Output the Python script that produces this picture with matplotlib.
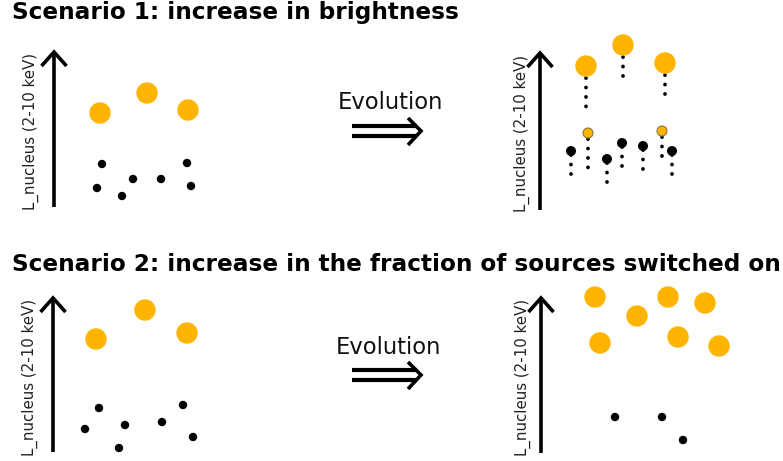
import matplotlib
matplotlib.use('Agg')
import matplotlib.pyplot as plt
from matplotlib.patches import Circle

plt.rcParams['lines.scale_dashes'] = False

orange = '#ffb400'

#%% positions (pixels, y down)
# scenario 1, before
s1_bright_x = [100, 147, 188]
s1_bright_y = [113, 93, 110]
s1_faint_x = [102, 97, 122, 133, 161, 187, 191]
s1_faint_y = [164, 188, 196, 179, 179, 163, 186]

# scenario 1, after (heads + end of dotted trail)
s1e_bright_x = [586, 623, 665]
s1e_bright_y = [66, 45, 63]
s1e_bright_tail = [108, 84, 98]
s1e_mid_x = [588, 662]
s1e_mid_y = [133, 131]
s1e_mid_tail = [171, 160]
s1e_faint_x = [571, 607, 622, 643, 672]
s1e_faint_y = [151, 159, 143, 146, 151]
s1e_faint_tail = [181, 187, 173, 177, 179]

# scenario 2, before
s2_bright_x = [96, 145, 187]
s2_bright_y = [339, 310, 333]
s2_faint_x = [99, 85, 125, 119, 162, 183, 193]
s2_faint_y = [408, 429, 425, 448, 422, 405, 437]

# scenario 2, after
s2e_bright_x = [595, 637, 668, 705, 600, 678, 719]
s2e_bright_y = [297, 316, 297, 303, 343, 337, 346]
s2e_faint_x = [615, 662, 683]
s2e_faint_y = [417, 417, 440]

titles = ["Scenario 1: increase in brightness",
          "Scenario 2: increase in the fraction of sources switched on"]
ylabel = "L_nucleus (2-10 keV)"

R_BIG = 10.7
R_SMALL = 4.2
R_HEAD = 5.0

fig = plt.figure(figsize=(7.83, 4.61), dpi=100)
ax = fig.add_axes([0, 0, 1, 1])
ax.set_xlim(0, 783)
ax.set_ylim(461, 0)
ax.set_aspect('auto')
ax.axis('off')


def dots(xs, ys, r, color, ec='none', lw=0):
    for x, y in zip(xs, ys):
        ax.add_patch(Circle((x, y), r, facecolor=color, edgecolor=ec, linewidth=lw, zorder=3))


def trails(xs, ys, tails, r):
    for x, y, t in zip(xs, ys, tails):
        ax.plot([x, x], [y + r + 1.5, t], color='black', linewidth=2.7,
                linestyle=(0, (0.1, 6.7)), dash_capstyle='round', zorder=2)


def yarrow(x, y0, y1, label_x):
    ax.plot([x, x], [y0, y1 + 1], color='black', linewidth=2.6, solid_capstyle='butt')
    ax.plot([x - 12.5, x, x + 12.5], [y1 + 14, y1, y1 + 14], color='black',
            linewidth=2.6, solid_joinstyle='miter', solid_capstyle='butt')
    ax.text(label_x, (y0 + y1) / 2 + 2, ylabel, rotation=90, ha='center', va='center',
            fontsize=10.8, color='#222222')


def evolution(xc, yt, ya):
    ax.text(xc, yt, "Evolution", ha='center', va='center', fontsize=16.3, color='#111111')
    ax.plot([352, 417], [ya - 5, ya - 5], color='black', linewidth=3, solid_capstyle='butt')
    ax.plot([352, 417], [ya + 5, ya + 5], color='black', linewidth=3, solid_capstyle='butt')
    ax.plot([408, 421, 408], [ya - 13, ya, ya + 14], color='black', linewidth=2.6,
            solid_joinstyle='miter', solid_capstyle='butt')


# scenario 1
ax.text(12, 13, titles[0], ha='left', va='center', fontsize=16.7, fontweight='bold')
yarrow(54, 207, 52, 31)
dots(s1_bright_x, s1_bright_y, R_BIG, orange)
dots(s1_faint_x, s1_faint_y, R_SMALL, 'black')
evolution(390, 102, 131)

yarrow(540, 210, 53, 522)
trails(s1e_bright_x, s1e_bright_y, s1e_bright_tail, R_BIG)
trails(s1e_mid_x, s1e_mid_y, s1e_mid_tail, R_HEAD)
trails(s1e_faint_x, s1e_faint_y, s1e_faint_tail, R_HEAD - 2)
dots(s1e_bright_x, s1e_bright_y, R_BIG, orange)
dots(s1e_mid_x, s1e_mid_y, R_HEAD, orange, ec='#8a7440', lw=0.8)
dots(s1e_faint_x, s1e_faint_y, R_HEAD, 'black')

# scenario 2
ax.text(12, 264, titles[1], ha='left', va='center', fontsize=16.7, fontweight='bold')
yarrow(53, 452, 298, 30)
dots(s2_bright_x, s2_bright_y, R_BIG, orange)
dots(s2_faint_x, s2_faint_y, R_SMALL, 'black')
evolution(388, 347, 375)

yarrow(541, 453, 298, 523)
dots(s2e_bright_x, s2e_bright_y, R_BIG, orange)
dots(s2e_faint_x, s2e_faint_y, R_SMALL, 'black')

fig.savefig('out.png', dpi=100)
